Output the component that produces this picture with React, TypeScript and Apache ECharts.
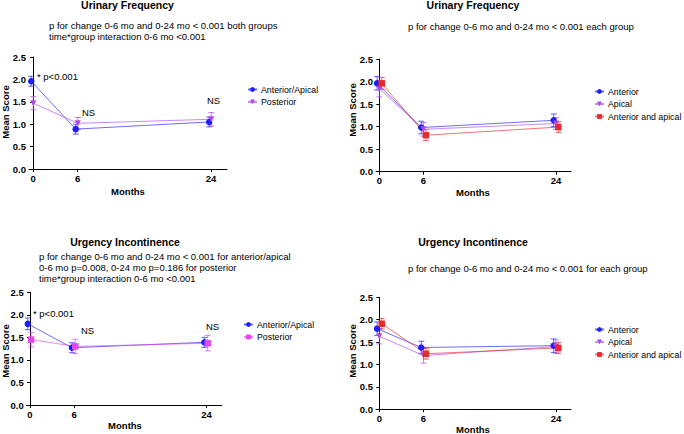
import React, { useEffect, useRef } from "react";
import * as echarts from "echarts";

// ---------- DATA ----------
const months = [0, 6, 24];

// Panel A: Urinary Frequency, Anterior/Apical vs Posterior
const ufAAMean = [1.96, 0.89, 1.05];
const ufAAErr = [0.11, 0.11, 0.11];
const ufPostMean = [1.47, 1.02, 1.11];
const ufPostErr = [0.15, 0.13, 0.15];

// Panel B: Urinary Frequency, Anterior / Apical / Anterior and apical
const ufAntMean = [1.96, 0.98, 1.14];
const ufAntErr = [0.15, 0.14, 0.14];
const ufApiMean = [1.84, 0.94, 1.07];
const ufApiErr = [0.18, 0.15, 0.13];
const ufBothMean = [1.96, 0.81, 0.99];
const ufBothErr = [0.13, 0.12, 0.12];

// Panel C: Urgency Incontinence, Anterior/Apical vs Posterior
const uiAAMean = [1.8, 1.27, 1.39];
const uiAAErr = [0.13, 0.11, 0.11];
const uiPostMean = [1.45, 1.3, 1.37];
const uiPostErr = [0.16, 0.16, 0.17];

// Panel D: Urgency Incontinence, Anterior / Apical / Anterior and apical
const uiAntMean = [1.8, 1.38, 1.42];
const uiAntErr = [0.15, 0.14, 0.15];
const uiApiMean = [1.63, 1.2, 1.4];
const uiApiErr = [0.17, 0.17, 0.15];
const uiBothMean = [1.91, 1.24, 1.37];
const uiBothErr = [0.12, 0.12, 0.12];

const titles = ["Urinary Frequency", "Urinary Frequency", "Urgency Incontinence", "Urgency Incontinence"];
const subtitles = [
  ["p for change 0-6 mo and 0-24 mo < 0.001 both groups", "time*group interaction 0-6 mo <0.001"],
  ["p for change 0-6 mo and 0-24 mo < 0.001 each group"],
  [
    "p for change 0-6 mo and 0-24 mo < 0.001 for anterior/apical",
    "0-6 mo p=0.008, 0-24 mo p=0.186 for posterior",
    "time*group interaction 0-6 mo <0.001",
  ],
  ["p for change 0-6 mo and 0-24 mo < 0.001 for each group"],
];
const yTitle = "Mean Score";
const xTitle = "Months";

// ---------- STYLE ----------
const FONT = "'Liberation Sans', Arial, Helvetica, sans-serif";
const BLUE = "#1e1ef5";
const PURPLE = "#b048f0";
const MAGENTA = "#e048e8";
const RED = "#e82a2a";

type Group = { name: string; mean: number[]; err: number[]; color: string; symbol: string; rotate: number; size: number; dx: number };

const panels: { groups: Group[] }[] = [
  {
    groups: [
      { name: "Anterior/Apical", mean: ufAAMean, err: ufAAErr, color: BLUE, symbol: "circle", rotate: 0, size: 6.5, dx: -0.25 },
      { name: "Posterior", mean: ufPostMean, err: ufPostErr, color: PURPLE, symbol: "triangle", rotate: 180, size: 6, dx: 0.03 },
    ],
  },
  {
    groups: [
      { name: "Anterior", mean: ufAntMean, err: ufAntErr, color: BLUE, symbol: "circle", rotate: 0, size: 6.5, dx: -0.3 },
      { name: "Apical", mean: ufApiMean, err: ufApiErr, color: PURPLE, symbol: "triangle", rotate: 180, size: 6, dx: 0 },
      { name: "Anterior and apical", mean: ufBothMean, err: ufBothErr, color: RED, symbol: "rect", rotate: 0, size: 6.5, dx: 0.33 },
    ],
  },
  {
    groups: [
      { name: "Anterior/Apical", mean: uiAAMean, err: uiAAErr, color: BLUE, symbol: "circle", rotate: 0, size: 6.5, dx: -0.3 },
      { name: "Posterior", mean: uiPostMean, err: uiPostErr, color: MAGENTA, symbol: "rect", rotate: 0, size: 6.5, dx: 0.15 },
    ],
  },
  {
    groups: [
      { name: "Anterior", mean: uiAntMean, err: uiAntErr, color: BLUE, symbol: "circle", rotate: 0, size: 6.5, dx: -0.3 },
      { name: "Apical", mean: uiApiMean, err: uiApiErr, color: PURPLE, symbol: "triangle", rotate: 180, size: 6, dx: 0 },
      { name: "Anterior and apical", mean: uiBothMean, err: uiBothErr, color: RED, symbol: "rect", rotate: 0, size: 6.5, dx: 0.33 },
    ],
  },
];

const grids = [
  { left: 29, top: 57, width: 198, height: 112, xmin: -0.55, xmax: 26.15 },
  { left: 376, top: 59, width: 195, height: 112.7, xmin: -0.45, xmax: 26.05 },
  { left: 26.7, top: 292.3, width: 195, height: 112.7, xmin: -0.45, xmax: 26.05 },
  { left: 376, top: 297.3, width: 195, height: 112, xmin: -0.45, xmax: 26.05 },
];

const layoutText = [
  { titleX: 127.5, titleY: 5, subX: 49, subY: 25, yTitleX: 5, yTitleY: 112, xTitleX: 128, xTitleY: 191, legendLeft: 247, legendTop: 85 },
  { titleX: 473, titleY: 5, subX: 408, subY: 26, yTitleX: 352, yTitleY: 110, xTitleX: 473, xTitleY: 192, legendLeft: 594, legendTop: 87 },
  { titleX: 125, titleY: 242, subX: 39, subY: 256, yTitleX: 5, yTitleY: 351, xTitleX: 125, xTitleY: 425, legendLeft: 243, legendTop: 320 },
  { titleX: 473, titleY: 242, subX: 408, subY: 268, yTitleX: 352, yTitleY: 351, xTitleX: 473, xTitleY: 429, legendLeft: 594, legendTop: 325 },
];

const annotations = [
  { text: "* p<0.001", x: 37, y: 76 },
  { text: "NS", x: 82, y: 112 },
  { text: "NS", x: 207, y: 100 },
  { text: "* p<0.001", x: 33, y: 313 },
  { text: "NS", x: 81, y: 330 },
  { text: "NS", x: 206, y: 326 },
];

function lighten(hex: string, a: number) {
  const r = parseInt(hex.slice(1, 3), 16);
  const g = parseInt(hex.slice(3, 5), 16);
  const b = parseInt(hex.slice(5, 7), 16);
  return `rgba(${r},${g},${b},${a})`;
}

function buildOption() {
  const series: any[] = [];
  const legends: any[] = [];
  const xAxis: any[] = [];
  const yAxis: any[] = [];
  const grid: any[] = [];
  const graphic: any[] = [];

  grids.forEach((g, i) => {
    grid.push({ left: g.left, top: g.top, width: g.width, height: g.height, containLabel: false });
    xAxis.push({
      type: "value",
      gridIndex: i,
      min: g.xmin,
      max: g.xmax,
      axisLine: { show: true, onZero: false, lineStyle: { color: "#000", width: 1 } },
      axisTick: { show: true, length: 3, customValues: months, lineStyle: { color: "#000" } },
      axisLabel: {
        customValues: months,
        color: "#000",
        fontFamily: FONT,
        fontSize: 9.5,
        fontWeight: "bold",
        margin: 4,
        formatter: (v: number) => String(v),
      },
      splitLine: { show: false },
    });
    yAxis.push({
      type: "value",
      gridIndex: i,
      min: 0,
      max: 2.5,
      interval: 0.5,
      axisLine: { show: true, lineStyle: { color: "#000", width: 1 } },
      axisTick: { show: true, length: 3, lineStyle: { color: "#000" } },
      axisLabel: {
        color: "#000",
        fontFamily: FONT,
        fontSize: 9.5,
        fontWeight: "bold",
        margin: 3,
        formatter: (v: number) => v.toFixed(1),
      },
      splitLine: { show: false },
    });
  });

  panels.forEach((p, i) => {
    const names: string[] = [];
    p.groups.forEach((gr) => {
      const sname = `p${i}|${gr.name}`;
      names.push(sname);
      series.push({
        type: "line",
        name: sname,
        xAxisIndex: i,
        yAxisIndex: i,
        data: months.map((m, k) => [m + gr.dx, gr.mean[k]]),
        symbol: gr.symbol,
        symbolRotate: gr.rotate,
        symbolSize: gr.size,
        itemStyle: { color: gr.color },
        lineStyle: { color: lighten(gr.color, 0.65), width: 1 },
        z: 3,
      });
      series.push({
        type: "custom",
        name: sname + "|err",
        xAxisIndex: i,
        yAxisIndex: i,
        data: months.map((m, k) => [m + gr.dx, gr.mean[k], gr.err[k]]),
        encode: { x: 0, y: 1 },
        z: 2,
        renderItem: (params: any, api: any) => {
          const x = api.value(0);
          const y = api.value(1);
          const e = api.value(2);
          const top = api.coord([x, y + e]);
          const bot = api.coord([x, y - e]);
          const hw = 3;
          const st = { stroke: lighten(gr.color, 0.7), lineWidth: 1 };
          return {
            type: "group",
            children: [
              { type: "line", shape: { x1: top[0], y1: top[1], x2: bot[0], y2: bot[1] }, style: st },
              { type: "line", shape: { x1: top[0] - hw, y1: top[1], x2: top[0] + hw, y2: top[1] }, style: st },
              { type: "line", shape: { x1: bot[0] - hw, y1: bot[1], x2: bot[0] + hw, y2: bot[1] }, style: st },
            ],
          };
        },
      });
    });
    const L = layoutText[i];
    legends.push({
      orient: "vertical",
      left: L.legendLeft,
      top: L.legendTop,
      padding: 0,
      itemWidth: 9,
      itemHeight: 6,
      itemGap: 3.5,
      selectedMode: false,
      data: names,
      formatter: (n: string) => n.split("|")[1],
      textStyle: { fontFamily: FONT, fontSize: 8.8, color: "#000", padding: [0, 0, 0, -1] },
    });

    // titles
    graphic.push({
      type: "text",
      x: L.titleX,
      y: L.titleY,
      style: { text: titles[i], fill: "#000", font: `bold 10.5px ${FONT}`, textAlign: "center", textVerticalAlign: "middle" },
    });
    subtitles[i].forEach((s, k) => {
      graphic.push({
        type: "text",
        x: L.subX,
        y: L.subY + k * 11,
        style: { text: s, fill: "#000", font: `9.5px ${FONT}`, textAlign: "left", textVerticalAlign: "middle" },
      });
    });
    graphic.push({
      type: "text",
      x: L.yTitleX,
      y: L.yTitleY,
      rotation: Math.PI / 2,
      style: { text: yTitle, fill: "#000", font: `bold 9.5px ${FONT}`, textAlign: "center", textVerticalAlign: "middle" },
    });
    graphic.push({
      type: "text",
      x: L.xTitleX,
      y: L.xTitleY,
      style: { text: xTitle, fill: "#000", font: `bold 9.5px ${FONT}`, textAlign: "center", textVerticalAlign: "middle" },
    });
  });

  annotations.forEach((a) => {
    graphic.push({
      type: "text",
      x: a.x,
      y: a.y,
      style: { text: a.text, fill: "#000", font: `9.5px ${FONT}`, textAlign: "left", textVerticalAlign: "middle" },
    });
  });

  return {
    animation: false,
    backgroundColor: "#fff",
    grid,
    xAxis,
    yAxis,
    legend: legends,
    series,
    graphic,
  };
}

export default function App() {
  const ref = useRef<HTMLDivElement>(null);
  useEffect(() => {
    if (!ref.current) return;
    const chart = echarts.init(ref.current, undefined, { renderer: "svg" });
    chart.setOption(buildOption() as any);
    return () => chart.dispose();
  }, []);
  return <div ref={ref} style={{ position: "fixed", left: 0, top: 0, width: 684, height: 434 }} />;
}
